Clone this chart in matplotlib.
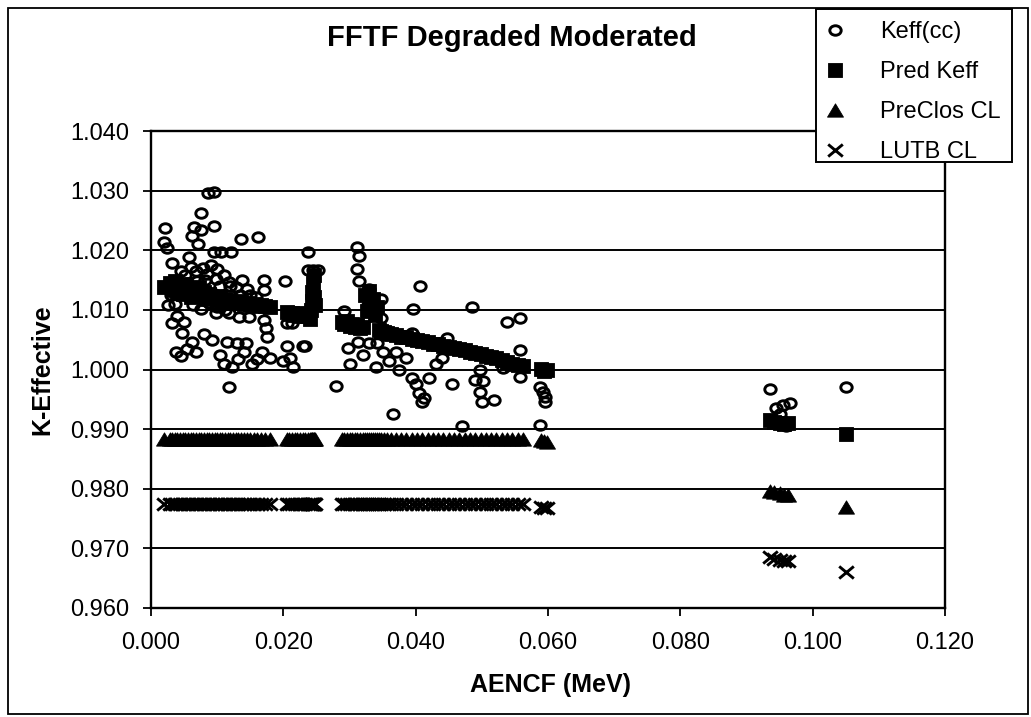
import numpy as np
import matplotlib
matplotlib.use("Agg")
import matplotlib.pyplot as plt
from matplotlib.path import Path
from matplotlib.lines import Line2D
from matplotlib.patches import Rectangle

plt.rcParams['font.family'] = ['Liberation Sans', 'DejaVu Sans']

W, H = 1031, 717

title = "FFTF Degraded Moderated"
x_label = "AENCF (MeV)"
y_label = "K-Effective"
series_names = ["Keff(cc)", "Pred Keff", "PreClos CL", "LUTB CL"]
x_ticks = [0.000, 0.020, 0.040, 0.060, 0.080, 0.100, 0.120]
y_ticks = [0.960, 0.970, 0.980, 0.990, 1.000, 1.010, 1.020, 1.030, 1.040]

# configurations (x) with predicted keff and limits
cfg_x = [0.0020, 0.0028, 0.0032, 0.0036, 0.0040, 0.0044, 0.0048, 0.0052, 0.0056, 0.0060,
         0.0064, 0.0068, 0.0072, 0.0076, 0.0080, 0.0084, 0.0088, 0.0092, 0.0096, 0.0100,
         0.0104, 0.0108, 0.0112, 0.0116, 0.0120, 0.0124, 0.0128, 0.0132, 0.0136, 0.0140,
         0.0145, 0.0150, 0.0155, 0.0160, 0.0166, 0.0173, 0.0180,
         0.0205, 0.0209, 0.0213, 0.0217, 0.0221, 0.0225, 0.0229, 0.0233, 0.0237, 0.0240,
         0.0242, 0.0243, 0.0244, 0.0245, 0.0246, 0.0247, 0.0248,
         0.0288, 0.0292, 0.0296, 0.0300, 0.0304, 0.0308, 0.0312, 0.0316, 0.0320, 0.0323,
         0.0326, 0.0329, 0.0332, 0.0335, 0.0338, 0.0341, 0.0344, 0.0348, 0.0352, 0.0356,
         0.0362, 0.0370, 0.0378, 0.0386, 0.0394, 0.0402, 0.0410, 0.0418, 0.0426, 0.0434,
         0.0442, 0.0450, 0.0458, 0.0466, 0.0474, 0.0482, 0.0490, 0.0498, 0.0506, 0.0514,
         0.0522, 0.0530, 0.0538, 0.0546, 0.0554, 0.0562,
         0.0590, 0.0594, 0.0598,
         0.0935, 0.0942, 0.0950, 0.0957, 0.0963, 0.1050]

pred_keff = [1.0139, 1.0145, 1.0134, 1.0148, 1.0130, 1.0141, 1.0126, 1.0144, 1.0132, 1.0122,
             1.0137, 1.0128, 1.0139, 1.0124, 1.0130, 1.0119, 1.0127, 1.0121, 1.0124, 1.0117,
             1.0121, 1.0116, 1.0119, 1.0114, 1.0117, 1.0112, 1.0115, 1.0111, 1.0113, 1.0110,
             1.0111, 1.0108, 1.0110, 1.0107, 1.0108, 1.0106, 1.0105,
             1.0096, 1.0093, 1.0095, 1.0091, 1.0094, 1.0090, 1.0092, 1.0089, 1.0091, 1.0085,
             1.0100, 1.0115, 1.0130, 1.0145, 1.0158, 1.0122, 1.0108,
             1.0080, 1.0076, 1.0081, 1.0073, 1.0077, 1.0071, 1.0074, 1.0069, 1.0072, 1.0125,
             1.0098, 1.0132, 1.0110, 1.0118, 1.0092, 1.0104, 1.0067, 1.0065, 1.0063, 1.0061,
             1.0060, 1.0058, 1.0055, 1.0054, 1.0051, 1.0050, 1.0047, 1.0046, 1.0043, 1.0042,
             1.0040, 1.0038, 1.0036, 1.0035, 1.0032, 1.0030, 1.0028, 1.0026, 1.0023, 1.0021,
             1.0019, 1.0016, 1.0013, 1.0010, 1.0008, 1.0006,
             1.0001, 0.9998, 1.0000,
             0.9915, 0.9912, 0.9911, 0.9909, 0.9910, 0.9892]

preclos_cl = [0.9883, 0.9883, 0.9883, 0.9883, 0.9883, 0.9883, 0.9883, 0.9883, 0.9883, 0.9883,
              0.9883, 0.9883, 0.9883, 0.9883, 0.9883, 0.9883, 0.9883, 0.9883, 0.9883, 0.9883,
              0.9883, 0.9883, 0.9883, 0.9883, 0.9883, 0.9883, 0.9883, 0.9883, 0.9883, 0.9883,
              0.9883, 0.9883, 0.9883, 0.9883, 0.9883, 0.9883, 0.9883,
              0.9883, 0.9883, 0.9883, 0.9883, 0.9883, 0.9883, 0.9883, 0.9883, 0.9883, 0.9883,
              0.9883, 0.9883, 0.9883, 0.9883, 0.9883, 0.9883, 0.9883,
              0.9883, 0.9883, 0.9883, 0.9883, 0.9883, 0.9883, 0.9883, 0.9883, 0.9883, 0.9883,
              0.9883, 0.9883, 0.9883, 0.9883, 0.9883, 0.9883, 0.9883, 0.9883, 0.9883, 0.9883,
              0.9883, 0.9883, 0.9883, 0.9883, 0.9883, 0.9883, 0.9883, 0.9883, 0.9883, 0.9883,
              0.9883, 0.9883, 0.9883, 0.9883, 0.9883, 0.9883, 0.9883, 0.9883, 0.9883, 0.9883,
              0.9883, 0.9883, 0.9883, 0.9883, 0.9883, 0.9883,
              0.9881, 0.9880, 0.9879,
              0.9797, 0.9795, 0.9793, 0.9790, 0.9789, 0.9770]

lutb_cl = [0.9774, 0.9774, 0.9774, 0.9774, 0.9774, 0.9774, 0.9774, 0.9774, 0.9774, 0.9774,
           0.9774, 0.9774, 0.9774, 0.9774, 0.9774, 0.9774, 0.9774, 0.9774, 0.9774, 0.9774,
           0.9774, 0.9774, 0.9774, 0.9774, 0.9774, 0.9774, 0.9774, 0.9774, 0.9774, 0.9774,
           0.9774, 0.9774, 0.9774, 0.9774, 0.9774, 0.9774, 0.9774,
           0.9774, 0.9774, 0.9774, 0.9774, 0.9774, 0.9774, 0.9774, 0.9774, 0.9774, 0.9774,
           0.9774, 0.9774, 0.9774, 0.9774, 0.9774, 0.9774, 0.9774,
           0.9774, 0.9774, 0.9774, 0.9774, 0.9774, 0.9774, 0.9774, 0.9774, 0.9774, 0.9774,
           0.9774, 0.9774, 0.9774, 0.9774, 0.9774, 0.9774, 0.9774, 0.9774, 0.9774, 0.9774,
           0.9774, 0.9774, 0.9774, 0.9774, 0.9774, 0.9774, 0.9774, 0.9774, 0.9774, 0.9774,
           0.9774, 0.9774, 0.9774, 0.9774, 0.9774, 0.9774, 0.9774, 0.9774, 0.9774, 0.9774,
           0.9774, 0.9774, 0.9774, 0.9774, 0.9774, 0.9774,
           0.9770, 0.9768, 0.9767,
           0.9686, 0.9683, 0.9681, 0.9679, 0.9679, 0.9660]

# calculated keff (cc)
keff_x = [0.0086, 0.0095, 0.0076, 0.0021, 0.0065, 0.0076, 0.0095, 0.0062, 0.0071, 0.0020,
          0.0024, 0.0136, 0.0162, 0.0032, 0.0058, 0.0095, 0.0106, 0.0121, 0.0138, 0.0118,
          0.0171, 0.0171, 0.0159,
          0.0045, 0.0052, 0.0060, 0.0068, 0.0078, 0.0085, 0.0090, 0.0100, 0.0110, 0.0120,
          0.0128, 0.0135, 0.0145, 0.0150, 0.0040, 0.0055, 0.0070, 0.0082, 0.0098, 0.0105,
          0.0030, 0.0036, 0.0048, 0.0063, 0.0075, 0.0088, 0.0100, 0.0112, 0.0025,
          0.0032, 0.0047, 0.0062, 0.0092, 0.0115, 0.0130, 0.0144, 0.0171, 0.0174, 0.0176,
          0.0098, 0.0118, 0.0133, 0.0148, 0.0040, 0.0050, 0.0038, 0.0045, 0.0055, 0.0068,
          0.0080, 0.0105, 0.0110, 0.0122, 0.0118, 0.0132, 0.0140, 0.0152, 0.0160, 0.0168,
          0.0180,
          0.0203, 0.0206, 0.0213, 0.0206, 0.0229, 0.0238, 0.0200, 0.0210, 0.0238, 0.0245,
          0.0252, 0.0232, 0.0215,
          0.0311, 0.0314, 0.0311, 0.0314, 0.0406, 0.0347, 0.0330, 0.0332, 0.0328, 0.0335,
          0.0291, 0.0347, 0.0396, 0.0485, 0.0394, 0.0447, 0.0297, 0.0313, 0.0330, 0.0342,
          0.0538, 0.0558, 0.0558, 0.0532, 0.0558, 0.0497, 0.0490, 0.0502, 0.0497, 0.0500,
          0.0518, 0.0588, 0.0592, 0.0595, 0.0595, 0.0588, 0.0280, 0.0365, 0.0375, 0.0385,
          0.0395, 0.0400, 0.0405, 0.0410, 0.0412, 0.0420, 0.0430, 0.0440, 0.0455, 0.0470,
          0.0300, 0.0320, 0.0340, 0.0350, 0.0360, 0.0370,
          0.0935, 0.0945, 0.0955, 0.0965, 0.0960, 0.0950, 0.1050]

keff_y = [1.0296, 1.0297, 1.0262, 1.0237, 1.0239, 1.0234, 1.0240, 1.0224, 1.0210, 1.0214,
          1.0204, 1.0219, 1.0222, 1.0178, 1.0189, 1.0197, 1.0197, 1.0197, 1.0150, 1.0147,
          1.0150, 1.0133, 1.0121,
          1.0165, 1.0158, 1.0172, 1.0165, 1.0170, 1.0160, 1.0175, 1.0168, 1.0158, 1.0140,
          1.0138, 1.0125, 1.0135, 1.0125, 1.0150, 1.0145, 1.0148, 1.0150, 1.0152, 1.0140,
          1.0125, 1.0110, 1.0128, 1.0108, 1.0102, 1.0112, 1.0105, 1.0100, 1.0108,
          1.0078, 1.0061, 1.0046, 1.0049, 1.0046, 1.0044, 1.0044, 1.0083, 1.0070, 1.0055,
          1.0094, 1.0094, 1.0088, 1.0088, 1.0090, 1.0080, 1.0030, 1.0022, 1.0035, 1.0030,
          1.0060, 1.0025, 1.0010, 1.0005, 0.9970, 1.0018, 1.0030, 1.0010, 1.0018, 1.0030,
          1.0020,
          1.0148, 1.0078, 1.0078, 1.0040, 1.0040, 1.0197, 1.0015, 1.0020, 1.0167, 1.0167,
          1.0167, 1.0040, 1.0005,
          1.0205, 1.0190, 1.0168, 1.0148, 1.0140, 1.0118, 1.0135, 1.0120, 1.0108, 1.0095,
          1.0098, 1.0086, 1.0101, 1.0105, 1.0061, 1.0053, 1.0036, 1.0046, 1.0045, 1.0045,
          1.0080, 1.0086, 1.0033, 1.0002, 0.9987, 0.9999, 0.9982, 0.9980, 0.9962, 0.9945,
          0.9949, 0.9970, 0.9962, 0.9954, 0.9945, 0.9907, 0.9972, 0.9925, 1.0000, 1.0020,
          0.9985, 0.9975, 0.9960, 0.9945, 0.9952, 0.9985, 1.0010, 1.0020, 0.9975, 0.9905,
          1.0010, 1.0025, 1.0005, 1.0030, 1.0015, 1.0030,
          0.9967, 0.9935, 0.9940, 0.9943, 0.9905, 0.9925, 0.9970]

# ---- marker shapes (slightly wide, like the scanned original) ----
uc = Path.unit_circle()
circ_m = Path(uc.vertices * np.array([1.2, 1.0]), uc.codes)
sq_m = Path([(-0.55, -0.5), (0.55, -0.5), (0.55, 0.5), (-0.55, 0.5), (-0.55, -0.5)],
            [Path.MOVETO, Path.LINETO, Path.LINETO, Path.LINETO, Path.CLOSEPOLY])
tri_m = Path([(0.0, 0.5), (-0.6, -0.5), (0.6, -0.5), (0.0, 0.5)],
             [Path.MOVETO, Path.LINETO, Path.LINETO, Path.CLOSEPOLY])
x_m = Path([(-0.6, -0.5), (0.6, 0.5), (-0.6, 0.5), (0.6, -0.5)],
           [Path.MOVETO, Path.LINETO, Path.MOVETO, Path.LINETO])

styles = [
    dict(marker=circ_m, ms=8.2, mfc='none', mec='black', mew=2.1),
    dict(marker=sq_m, ms=10.5, mfc='black', mec='black', mew=0.6),
    dict(marker=tri_m, ms=11.5, mfc='black', mec='black', mew=0.6),
    dict(marker=x_m, ms=10.5, mfc='none', mec='black', mew=2.1),
]

fig = plt.figure(figsize=(W / 100, H / 100), dpi=100)
fig.patch.set_facecolor('white')

L, R, T, B = 151, 945, 131, 608
ax = fig.add_axes([L / W, 1 - B / H, (R - L) / W, (B - T) / H])
ax.set_xlim(0, 0.12)
ax.set_ylim(0.96, 1.04)

ax.plot(keff_x, keff_y, ls='none', **styles[0], zorder=3)
ax.plot(cfg_x, pred_keff, ls='none', **styles[1], zorder=4)
ax.plot(cfg_x, preclos_cl, ls='none', **styles[2], zorder=5)
ax.plot(cfg_x, lutb_cl, ls='none', **styles[3], zorder=6)

ax.set_xticks(x_ticks)
ax.set_xticklabels([f"{v:.3f}" for v in x_ticks])
ax.set_yticks(y_ticks)
ax.set_yticklabels([f"{v:.3f}" for v in y_ticks])
ax.tick_params(axis='both', direction='out', length=6, width=1.3, color='black',
               labelsize=17, labelcolor='black')
ax.tick_params(axis='y', pad=10)
ax.tick_params(axis='x', pad=11)
ax.yaxis.grid(True, color='black', lw=1.4)
ax.xaxis.grid(False)
ax.set_axisbelow(True)
for sp in ax.spines.values():
    sp.set_color('black')
    sp.set_linewidth(1.7)

# titles / axis labels
fig.text(512 / W, 1 - 38 / H, title, ha='center', va='center', fontsize=21, fontweight='bold')
fig.text(550 / W, 1 - 685 / H, x_label, ha='center', va='center', fontsize=18, fontweight='bold')
fig.text(42 / W, 1 - 370 / H, y_label, ha='center', va='center', rotation=90,
         fontsize=18, fontweight='bold')

# outer chart frame
fig.patches.append(Rectangle((8 / W, 1 - 714 / H), (1028 - 8) / W, (714 - 8) / H,
                             transform=fig.transFigure, fill=False, edgecolor='black',
                             lw=1.3, zorder=1))
# legend frame (opaque, above plot)
fig.patches.append(Rectangle((816 / W, 1 - 162 / H), (1012 - 816) / W, (162 - 9) / H,
                             transform=fig.transFigure, facecolor='white', edgecolor='black',
                             lw=1.4, zorder=2))

handles = [Line2D([], [], ls='none', **s) for s in styles]
leg = fig.legend(handles, series_names, loc='upper left',
                 bbox_to_anchor=(816 / W, 1 - 12 / H), bbox_transform=fig.transFigure,
                 frameon=False, fontsize=17, handlelength=0.8, handletextpad=1.5,
                 borderpad=0.4, labelspacing=0.76, borderaxespad=0)
leg.set_zorder(6)

fig.savefig("out.png", dpi=100, facecolor='white')
